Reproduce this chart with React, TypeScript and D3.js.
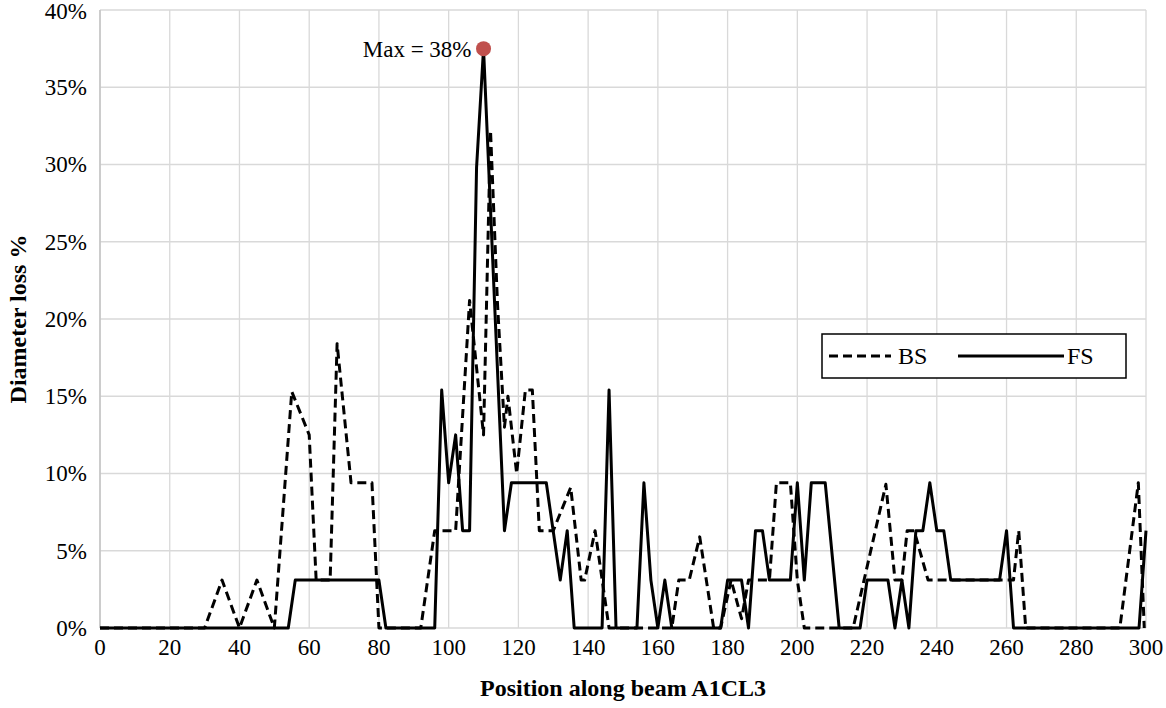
import React from "react";
import * as d3 from "d3";

const xTicks = [0, 20, 40, 60, 80, 100, 120, 140, 160, 180, 200, 220, 240, 260, 280, 300];
const yTicks = [0, 5, 10, 15, 20, 25, 30, 35, 40];

// BS (dashed) turning points: position, diameter loss %
const bsPos = [0, 30, 35, 40, 45, 50, 55, 60, 62, 66, 68, 72, 78, 80, 92, 96, 102, 106, 110, 112, 114, 116, 117, 119.5, 122, 124, 126, 130, 135, 138, 139, 142, 146, 164, 166, 169, 172, 176, 178, 181, 184, 186, 192, 194, 198, 200, 202, 216, 225.4, 228, 230, 231.5, 233.5, 237.5, 262, 263.5, 265.5, 292.5, 297.8, 299.5];
const bsVal = [0, 0, 3.1, 0, 3.1, 0, 15.3, 12.5, 3.1, 3.1, 18.4, 9.4, 9.4, 0, 0, 6.3, 6.3, 21.2, 12.5, 32.2, 21, 13, 15, 10, 15.4, 15.4, 6.3, 6.3, 9.1, 3.1, 3.1, 6.3, 0, 0, 3.1, 3.1, 5.9, 0, 0, 3.1, 0.6, 3.1, 3.1, 9.4, 9.4, 3.1, 0, 0, 9.3, 3.1, 3.1, 6.3, 6.3, 3.1, 3.1, 6.3, 0, 0, 9.4, 0];

// FS (solid) turning points
const fsPos = [0, 54, 56, 80, 82, 96, 98, 100, 102, 104, 106, 108, 110, 116, 118, 128, 132, 134, 136, 144, 146, 148, 154, 156, 158, 160, 162, 164, 178, 180, 184, 186, 188, 190, 192, 198, 200, 202, 204, 208, 212, 218, 220, 226, 228, 230, 232, 234, 236, 238, 240, 242, 244, 258, 260, 262, 298, 300];
const fsVal = [0, 0, 3.1, 3.1, 0, 0, 15.4, 9.4, 12.5, 6.3, 6.3, 29.8, 37.5, 6.3, 9.4, 9.4, 3.1, 6.3, 0, 0, 15.4, 0, 0, 9.4, 3.1, 0, 3.1, 0, 0, 3.1, 3.1, 0, 6.3, 6.3, 3.1, 3.1, 9.4, 3.1, 9.4, 9.4, 0, 0, 3.1, 3.1, 0, 3.1, 0, 6.3, 6.3, 9.4, 6.3, 6.3, 3.1, 3.1, 6.3, 0, 0, 6.3];

const maxPos = 110;
const maxVal = 37.5;
const maxLabel = "Max = 38%";
const legendNames = ["BS", "FS"];

const FONT = "'Liberation Serif', 'Times New Roman', serif";

export default function App() {
  const W = 1166, H = 708;
  const left = 100, right = 1146, top = 10, bottom = 628;
  const x = d3.scaleLinear().domain([0, 300]).range([left, right]);
  const y = d3.scaleLinear().domain([0, 40]).range([bottom, top]);
  const line = d3.line<[number, number]>().x(d => x(d[0])).y(d => y(d[1]));
  const bs = bsPos.map((p, i) => [p, bsVal[i]] as [number, number]);
  const fs = fsPos.map((p, i) => [p, fsVal[i]] as [number, number]);

  return (
    <svg width={W} height={H} style={{ position: "absolute", left: 0, top: 0 }} fontFamily={FONT}>
      <rect x={0} y={0} width={W} height={H} fill="#fff" />
      {xTicks.map(t => (
        <line key={"gx" + t} x1={x(t)} x2={x(t)} y1={top} y2={bottom} stroke="#d9d9d9" strokeWidth={1.3} />
      ))}
      {yTicks.map(t => (
        <line key={"gy" + t} x1={left} x2={right} y1={y(t)} y2={y(t)} stroke="#d9d9d9" strokeWidth={1.3} />
      ))}
      <line x1={left} x2={left} y1={top} y2={bottom} stroke="#bfbfbf" strokeWidth={1.3} />
      {yTicks.map(t => (
        <text key={"ty" + t} x={87} y={y(t) + (t === 40 ? 1 : 0)} dy="0.34em" textAnchor="end" fontSize={23} fill="#000">{t + "%"}</text>
      ))}
      {xTicks.map(t => (
        <text key={"tx" + t} x={x(t)} y={655} textAnchor="middle" fontSize={23} fill="#000">{t}</text>
      ))}
      <text x={(left + right) / 2} y={696} textAnchor="middle" fontSize={24} fontWeight="bold">Position along beam A1CL3</text>
      <text transform={`translate(26,${(top + bottom) / 2}) rotate(-90)`} textAnchor="middle" fontSize={24} fontWeight="bold">Diameter loss %</text>

      <path d={line(bs) || ""} fill="none" stroke="#000" strokeWidth={3} strokeDasharray="9,5" strokeLinejoin="round" />
      <path d={line(fs) || ""} fill="none" stroke="#000" strokeWidth={3} strokeLinejoin="round" />

      <circle cx={x(maxPos)} cy={y(maxVal)} r={7.5} fill="#c0504d" />
      <text x={x(maxPos) - 12} y={y(maxVal)} dy="0.35em" textAnchor="end" fontSize={23}>{maxLabel}</text>

      <rect x={822} y={334} width={304} height={44} fill="#fff" stroke="#000" strokeWidth={1.5} />
      <line x1={829} x2={891} y1={356} y2={356} stroke="#000" strokeWidth={3} strokeDasharray="9,5" />
      <text x={898} y={356} dy="0.35em" fontSize={24}>{legendNames[0]}</text>
      <line x1={958} x2={1064} y1={356} y2={356} stroke="#000" strokeWidth={3} />
      <text x={1067} y={356} dy="0.35em" fontSize={24}>{legendNames[1]}</text>
    </svg>
  );
}
